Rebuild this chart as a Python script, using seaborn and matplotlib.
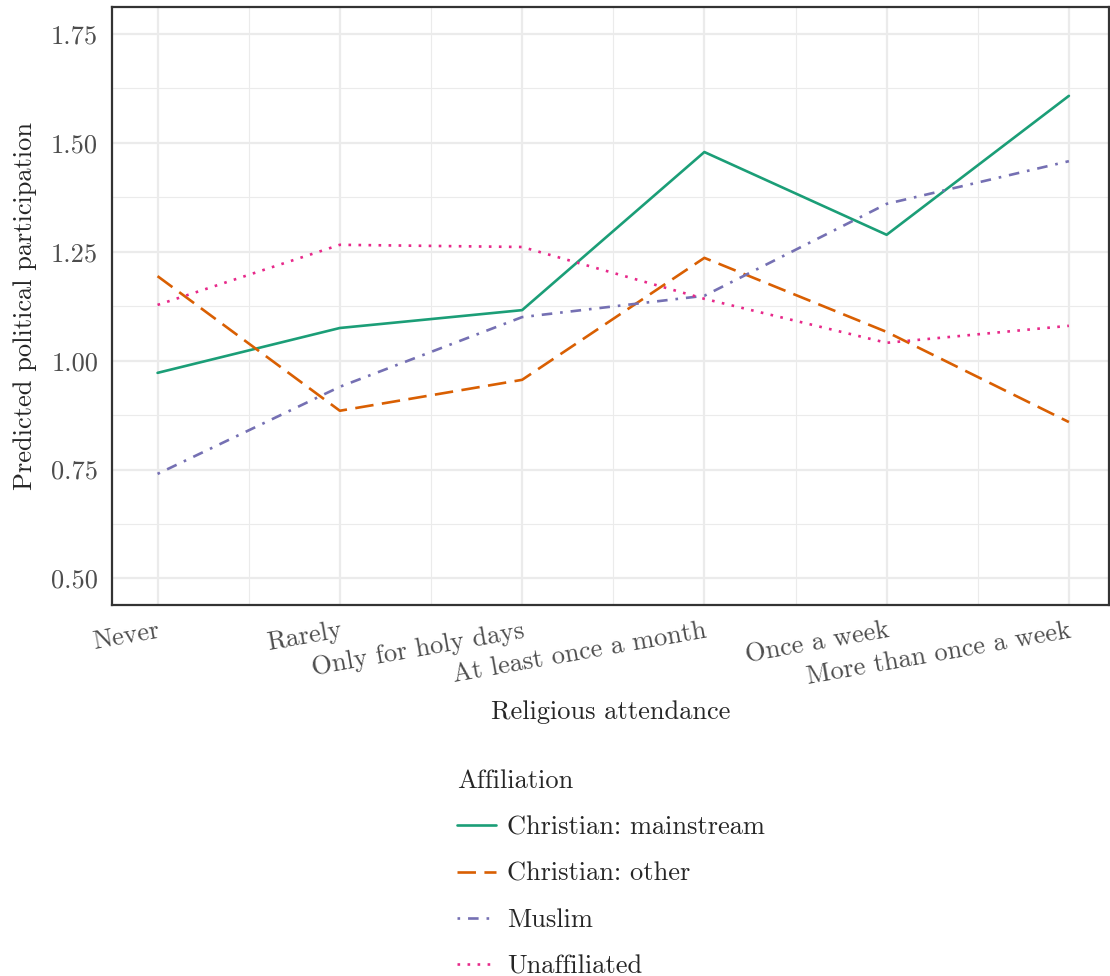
import pandas as pd
import numpy as np
import matplotlib
matplotlib.use("Agg")
import matplotlib.pyplot as plt
from matplotlib.ticker import FixedLocator
import seaborn as sns

attendance = ["Never", "Rarely", "Only for holy days", "At least once a month",
              "Once a week", "More than once a week"]
groups = ["Christian: mainstream", "Christian: other", "Muslim", "Unaffiliated"]

mainstream = [0.972, 1.075, 1.116, 1.479, 1.289, 1.608]
other = [1.194, 0.885, 0.956, 1.236, 1.066, 0.859]
muslim = [0.740, 0.940, 1.100, 1.149, 1.360, 1.458]
unaffiliated = [1.128, 1.266, 1.261, 1.142, 1.041, 1.080]

df = pd.DataFrame({
    "attendance": attendance * 4,
    "Affiliation": np.repeat(groups, len(attendance)),
    "value": mainstream + other + muslim + unaffiliated,
})

sns.set_style("white")
plt.rcParams["font.family"] = ["cmr10", "DejaVu Serif"]
plt.rcParams["axes.formatter.use_mathtext"] = True

palette = ["#1B9E77", "#D95F02", "#7570B3", "#E7298A"]
dashes = ["", (7, 3.2), (1, 3, 4, 3), (1, 2.8)]

fig = plt.figure(figsize=(11.1, 9.76), dpi=100)
ax = fig.add_axes([112 / 1110, 1 - 605 / 976, (1109 - 112) / 1110, (605 - 7) / 976])

sns.lineplot(data=df, x="attendance", y="value", hue="Affiliation", style="Affiliation",
             palette=palette, dashes=dashes, linewidth=1.9, sort=False, ax=ax)

ax.set_xlim(-0.25, 5.22)
ax.set_ylim(0.439, 1.812)
ax.yaxis.set_minor_locator(FixedLocator([0.625, 0.875, 1.125, 1.375, 1.625]))
ax.xaxis.set_minor_locator(FixedLocator([0.5, 1.5, 2.5, 3.5, 4.5]))
ax.set_yticks([0.5, 0.75, 1.0, 1.25, 1.5, 1.75])
ax.set_yticklabels(["0.50", "0.75", "1.00", "1.25", "1.50", "1.75"])

ax.grid(which="major", color="#EBEBEB", linewidth=1.6)
ax.grid(which="minor", color="#EBEBEB", linewidth=0.8)
ax.set_axisbelow(True)
for s in ax.spines.values():
    s.set_color("#333333")
    s.set_linewidth(1.6)

ax.tick_params(axis="both", which="major", length=6, width=1.4, color="#333333",
               labelsize=19, labelcolor="#4D4D4D", pad=4)
ax.tick_params(axis="both", which="minor", length=0)
for lab in ax.get_xticklabels():
    lab.set_rotation(10)
    lab.set_ha("right")
    lab.set_rotation_mode("anchor")

ax.set_xlabel("Religious attendance", fontsize=19, labelpad=8)
ax.set_ylabel("Predicted political participation", fontsize=19, labelpad=10)

handles, labels = ax.get_legend_handles_labels()
ax.get_legend().remove()
leg = fig.legend(handles, labels, title="Affiliation", loc="upper left",
                 bbox_to_anchor=(433 / 1110, 1 - 746 / 976), frameon=False,
                 fontsize=19, title_fontsize=19, handlelength=1.5,
                 labelspacing=0.85, handletextpad=0.4, alignment="left")

fig.savefig("out.png", dpi=100)
